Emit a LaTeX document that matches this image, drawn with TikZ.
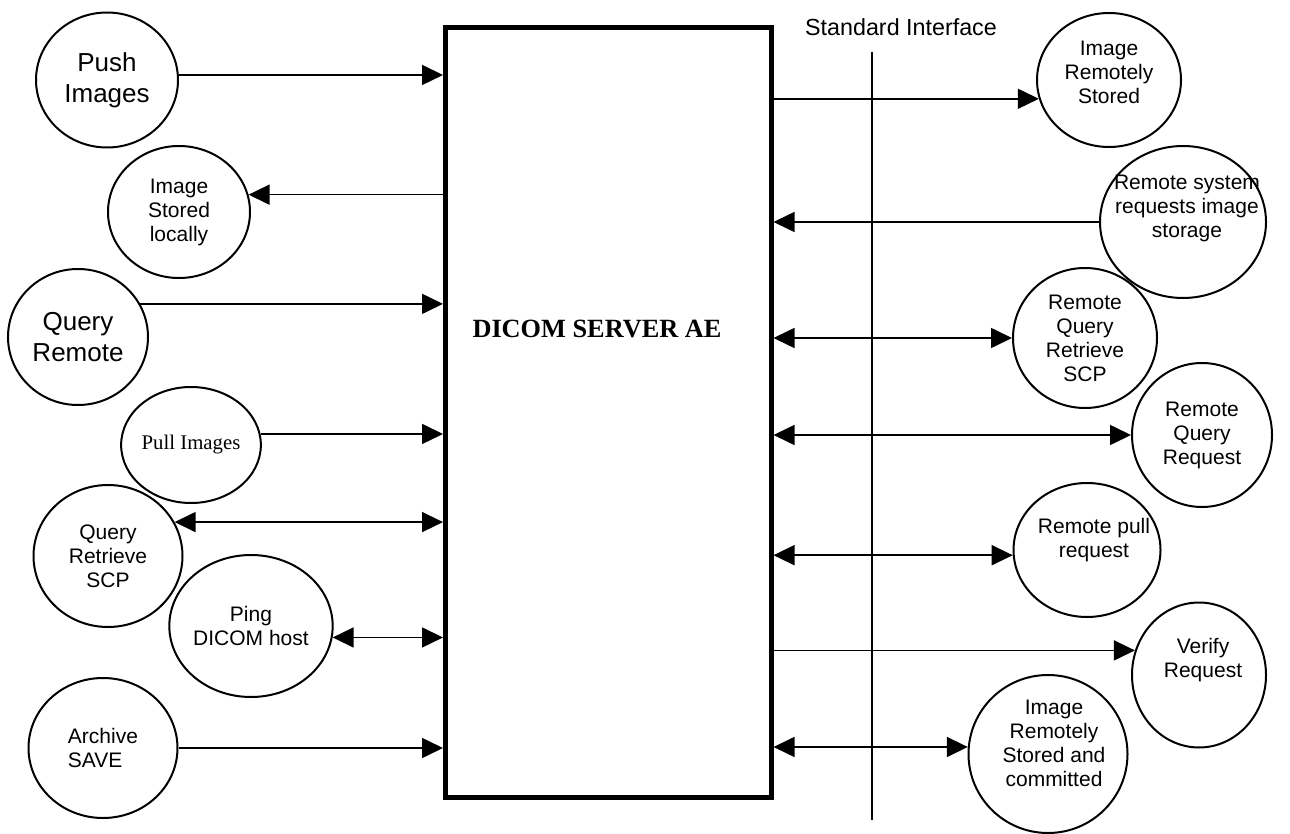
\documentclass[tikz,border=0pt]{standalone}
\usepackage{fontspec}
\setmainfont{Liberation Sans}
\newfontfamily\timesfont{Liberation Serif}
\usetikzlibrary{shapes.geometric, arrows.meta}

\begin{document}
\begin{tikzpicture}[x=1pt, y=-1pt,
    circStyle/.style={ellipse, draw, line width=2pt, inner sep=0pt, align=center, font=\fontsize{21}{24}\selectfont},
    textStyle/.style={align=center, font=\fontsize{21}{24}\selectfont},
    bigStyle/.style={font=\fontsize{26}{31}\selectfont},
    arrowStyle/.style={line width=1.6pt, -{Triangle[length=21pt, width=20pt]}},
    bothStyle/.style={line width=1.6pt, {Triangle[length=21pt, width=20pt]}-{Triangle[length=21pt, width=20pt]}}]
    \useasboundingbox (0,0) rectangle (1290,834);

    % server box
    \node[draw, line width=5pt, minimum width=325.5pt, minimum height=770pt, inner sep=0pt] (server) at (608.25, 412.5) {};
    \node[font=\timesfont\bfseries\fontsize{26.3}{30}\selectfont, anchor=base] (serverName) at (597, 337) {DICOM SERVER AE};

    % standard interface
    \coordinate (siTop) at (872, 52);
    \coordinate (siBot) at (872, 820);
    \draw[line width=1.2pt] (siTop) -- (siBot);
    \node[font=\fontsize{23.3}{28}\selectfont] (siName) at (901, 27) {Standard Interface};

    % left side
    \node[circStyle, bigStyle, minimum width=142pt, minimum height=135pt] (push)    at (107,  80) {Push\\Images};
    \node[circStyle, minimum width=142pt, minimum height=132pt]           (stored)  at (179, 212) {Image\\Stored\\locally};
    \node[circStyle, bigStyle, minimum width=140pt, minimum height=136pt] (qremote) at ( 78, 337) {Query\\Remote};
    \node[circStyle, font=\timesfont\fontsize{20.8}{24}\selectfont, minimum width=124pt, minimum height=116pt] (pull) at (191, 445) {Pull Images};
    \node[circStyle, minimum width=149pt, minimum height=142pt]           (qrscp)   at (108, 556) {Query\\Retrieve\\SCP};
    \node[circStyle, minimum width=148pt, minimum height=142pt]           (ping)    at (251, 626) {Ping\\DICOM host};
    \node[circStyle, align=left, minimum width=149pt, minimum height=140pt] (archive) at (103, 748) {Archive\\SAVE};

    \draw[arrowStyle] (push.4) -- (push.4 -| server.west);
    \draw[arrowStyle] (server.west |- stored.14) -- (stored.14);
    \draw[arrowStyle] (qremote.28) -- (qremote.28 -| server.west);
    \draw[arrowStyle] (pull.9) -- (pull.9 -| server.west);
    \draw[bothStyle] (qrscp.27) -- (qrscp.27 -| server.west);
    \draw[bothStyle] (ping.-8) -- (ping.-8 -| server.west);
    \draw[arrowStyle] (archive.east) -- (archive.east -| server.west);

    % right side
    \node[circStyle, minimum width=144pt, minimum height=134pt] (remStored) at (1109,  80) {};
    \node[textStyle] (remStoredText) at (1109, 72) {Image\\Remotely\\Stored};
    \node[circStyle, minimum width=166pt, minimum height=152pt] (remReq)    at (1183, 222) {};
    \node[textStyle] (remReqText) at (1187, 208) {Remote system\\requests image\\storage};
    \node[circStyle, minimum width=144pt, minimum height=140pt] (remQrscp)  at (1085, 338) {Remote\\Query\\Retrieve\\SCP};
    \node[circStyle, minimum width=140pt, minimum height=144pt] (remQuery)  at (1202, 435) {Remote\\Query\\Request};
    \node[circStyle, minimum width=147pt, minimum height=134pt] (remPull)   at (1087, 550) {};
    \node[textStyle] (remPullText) at (1094, 540) {Remote pull\\request};
    \node[circStyle, minimum width=134pt, minimum height=145pt] (verify)    at (1199, 675) {};
    \node[textStyle] (verifyText) at (1203, 660) {Verify\\Request};
    \node[circStyle, minimum width=159pt, minimum height=158pt] (committed) at (1048, 754) {};
    \node[textStyle] (committedText) at (1054, 743) {Image\\Remotely\\Stored and\\committed};

    \draw[arrowStyle] (server.east |- remStored.195) -- (remStored.195);
    \draw[arrowStyle] (remReq.west) -- (remReq.west -| server.east);
    \draw[bothStyle] (server.east |- remQrscp.west) -- (remQrscp.west);
    \draw[bothStyle] (server.east |- remQuery.west) -- (remQuery.west);
    \draw[bothStyle] (server.east |- remPull.184) -- (remPull.184);
    \draw[arrowStyle] (server.east |- verify.159) -- (verify.159);
    \draw[bothStyle] (server.east |- committed.175) -- (committed.175);
\end{tikzpicture}
\end{document}
